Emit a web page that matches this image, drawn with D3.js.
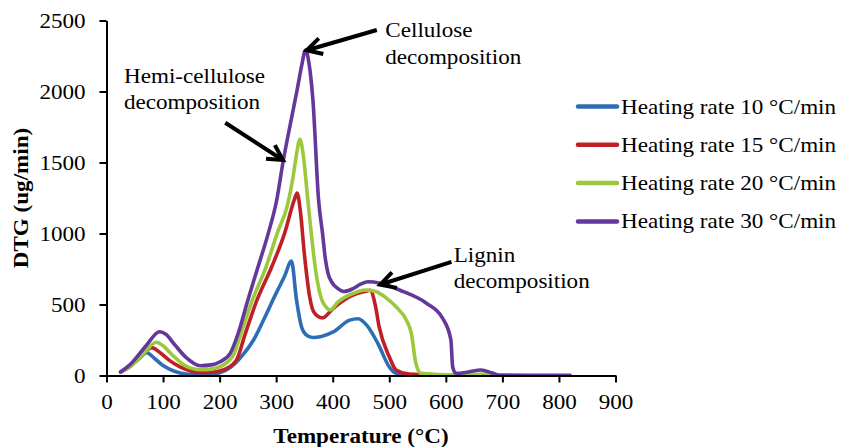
<!DOCTYPE html>
<html>
<head>
<meta charset="utf-8">
<script src="https://cdn.jsdelivr.net/npm/d3@7"></script>
<style>
  body { margin: 0; background: #fff; }
  text { font-family: "Liberation Serif", "Times New Roman", serif; fill: #000; }
</style>
</head>
<body>
<script>
var w = 841;
var h = 447;

// DTG curves (temperature in °C, DTG in ug/min)
var temp10 = [25, 40, 55, 71, 85, 100, 120, 140, 160, 180, 200, 220, 240, 260, 280, 300, 315, 327, 336, 345, 352, 364, 380, 400, 430, 445, 460, 480, 500, 512, 530, 560, 600, 650];
var dtg10  = [25, 60, 110, 160, 120, 70, 30, 10, 5, 8, 20, 60, 140, 250, 410, 580, 700, 806, 532, 340, 290, 268, 275, 305, 390, 400, 355, 225, 60, 15, 5, 3, 2, 2];

var temp15 = [25, 40, 60, 80, 95, 110, 130, 150, 170, 190, 210, 230, 245, 265, 292, 315, 332, 337, 343, 350, 359, 364, 371, 382, 400, 430, 460, 466, 475, 482, 500, 512, 535, 600, 690];
var dtg15  = [25, 60, 130, 196, 160, 110, 60, 30, 20, 25, 45, 110, 290, 520, 764, 1003, 1236, 1285, 1150, 850, 560, 470, 425, 405, 470, 555, 595, 600, 500, 344, 132, 39, 10, 5, 2];

var temp20 = [25, 45, 65, 88, 100, 115, 135, 155, 165, 185, 205, 225, 238, 258, 282, 302, 320, 330, 336, 342, 348, 356, 362, 369, 373, 380, 388, 395, 410, 430, 459, 477, 495, 512, 530, 539, 547, 556, 600, 650, 670, 688];
var dtg20  = [25, 75, 150, 234, 210, 150, 80, 45, 40, 45, 70, 150, 299, 532, 764, 1003, 1200, 1400, 1560, 1663, 1550, 1236, 1003, 764, 660, 540, 483, 461, 520, 567, 602, 590, 545, 484, 391, 297, 86, 15, 5, 8, 10, 2];

var temp30 = [25, 45, 70, 94, 105, 120, 140, 166, 185, 200, 219, 233, 250, 268, 286, 301, 312, 326, 337, 345, 352, 358, 365, 375, 382, 387, 392, 398, 408, 420, 435, 450, 462, 484, 518, 565, 594, 609, 612, 618, 640, 662, 682, 694, 750, 820];
var dtg30  = [25, 90, 210, 308, 290, 220, 130, 69, 75, 95, 158, 299, 532, 766, 1001, 1236, 1500, 1790, 2010, 2180, 2292, 2200, 1940, 1236, 1000, 820, 715, 660, 615, 592, 610, 645, 660, 650, 602, 511, 405, 250, 62, 15, 25, 39, 18, 3, 2, 2];

var seriesNames = ["Heating rate 10 \u00B0C/min", "Heating rate 15 \u00B0C/min", "Heating rate 20 \u00B0C/min", "Heating rate 30 \u00B0C/min"];
var seriesColors = ["#2d6db5", "#be2026", "#9cc83c", "#64389a"];
var xTicks = [0, 100, 200, 300, 400, 500, 600, 700, 800, 900];
var yTicks = [0, 500, 1000, 1500, 2000, 2500];

var series = [
  { name: seriesNames[0], color: seriesColors[0], t: temp10, v: dtg10 },
  { name: seriesNames[1], color: seriesColors[1], t: temp15, v: dtg15 },
  { name: seriesNames[2], color: seriesColors[2], t: temp20, v: dtg20 },
  { name: seriesNames[3], color: seriesColors[3], t: temp30, v: dtg30 }
];

var stretch = "scale(1.1,1)";

var xScale = d3.scaleLinear().domain([0, 900]).range([106.5, 615.5]);
var yScale = d3.scaleLinear().domain([0, 2500]).range([375.5, 20.5]);

var svg = d3.select("body")
  .append("svg")
  .attr("width", w)
  .attr("height", h);

svg.append("rect").attr("width", w).attr("height", h).attr("fill", "#fff");

// curves
var line = d3.line()
  .x(function(d) { return xScale(d[0]); })
  .y(function(d) { return yScale(d[1]); })
  .curve(d3.curveMonotoneX);

svg.selectAll("path.series")
  .data(series)
  .enter()
  .append("path")
  .attr("class", "series")
  .attr("d", function(s) {
    return line(s.t.map(function(t, i) { return [t, s.v[i]]; }));
  })
  .attr("fill", "none")
  .attr("stroke", function(s) { return s.color; })
  .attr("stroke-width", 3.6)
  .attr("stroke-linejoin", "round")
  .attr("stroke-linecap", "round");

// axes
var xAxis = svg.append("g")
  .attr("transform", "translate(0," + yScale(0) + ")")
  .call(d3.axisBottom(xScale).tickValues(xTicks).tickSize(7).tickPadding(12).tickSizeOuter(0));
var yAxis = svg.append("g")
  .attr("transform", "translate(" + xScale(0) + ",0)")
  .call(d3.axisLeft(yScale).tickValues(yTicks).tickFormat(d3.format("d")).tickSize(7).tickPadding(12).tickSizeOuter(0));

[xAxis, yAxis].forEach(function(a) {
  a.select(".domain").attr("stroke", "#000").attr("stroke-width", 2);
  a.selectAll(".tick line").attr("stroke", "#000").attr("stroke-width", 2);
  a.selectAll(".tick text")
    .attr("font-size", "21px")
    .attr("font-family", "Liberation Serif")
    .attr("fill", "#000")
    .attr("transform", stretch);
});

// axis titles
svg.append("text")
  .attr("transform", "translate(" + xScale(450) + ",443) " + stretch)
  .attr("text-anchor", "middle")
  .attr("font-size", "21px")
  .attr("font-weight", "bold")
  .text("Temperature (\u00B0C)");

svg.append("text")
  .attr("transform", "translate(28," + yScale(1250) + ") rotate(-90) " + stretch)
  .attr("text-anchor", "middle")
  .attr("font-size", "21px")
  .attr("font-weight", "bold")
  .text("DTG (ug/min)");

// legend
var legend = svg.selectAll("g.legend")
  .data(series)
  .enter()
  .append("g")
  .attr("class", "legend")
  .attr("transform", function(d, i) { return "translate(578," + (106.5 + i * 38.3) + ")"; });

legend.append("line")
  .attr("x1", 0).attr("x2", 39)
  .attr("stroke", function(d) { return d.color; })
  .attr("stroke-width", 4.5)
  .attr("stroke-linecap", "round");

legend.append("text")
  .attr("transform", "translate(43,7) " + stretch)
  .attr("font-size", "21px")
  .text(function(d) { return d.name; });

// annotations: text anchor and arrow in data coordinates
var notes = [
  { lines: ["Hemi-cellulose", "decomposition"], at: [31, 2060], from: [210, 1780], to: [312, 1517] },
  { lines: ["Cellulose", "decomposition"], at: [493, 2383], from: [478, 2433], to: [354, 2290] },
  { lines: ["Lignin", "decomposition"], at: [614, 800], from: [610, 800], to: [484, 640] }
];

notes.forEach(function(n) {
  var t = svg.append("text")
    .attr("transform", "translate(" + xScale(n.at[0]) + "," + yScale(n.at[1]) + ") " + stretch)
    .attr("font-size", "21px");
  n.lines.forEach(function(l, i) {
    t.append("tspan").attr("x", 0).attr("y", i * 26.5).text(l);
  });

  var x1 = xScale(n.from[0]), y1 = yScale(n.from[1]);
  var x2 = xScale(n.to[0]), y2 = yScale(n.to[1]);
  var ang = Math.atan2(y2 - y1, x2 - x1);
  var len = 17, spread = 0.5;
  svg.append("line")
    .attr("x1", x1).attr("y1", y1)
    .attr("x2", x2 - 2 * Math.cos(ang)).attr("y2", y2 - 2 * Math.sin(ang))
    .attr("stroke", "#000").attr("stroke-width", 4);
  svg.append("polyline")
    .attr("points", [
      [x2 - len * Math.cos(ang - spread), y2 - len * Math.sin(ang - spread)],
      [x2, y2],
      [x2 - len * Math.cos(ang + spread), y2 - len * Math.sin(ang + spread)]
    ].join(" "))
    .attr("fill", "none")
    .attr("stroke", "#000")
    .attr("stroke-width", 4)
    .attr("stroke-linejoin", "miter");
});
</script>
</body>
</html>
